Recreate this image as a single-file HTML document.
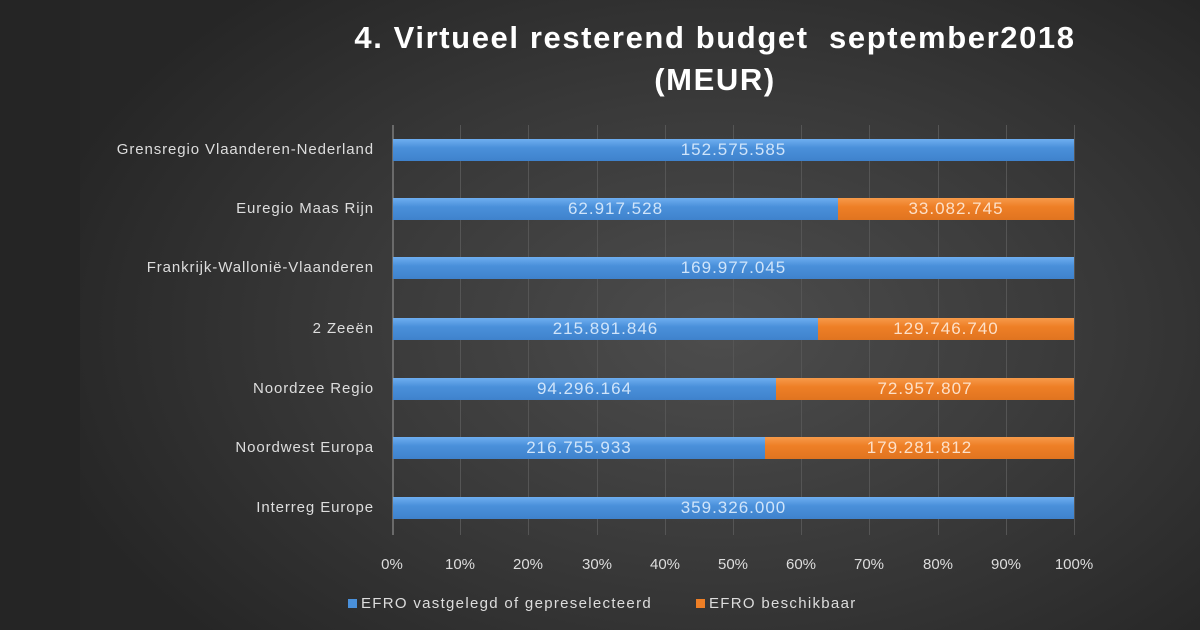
<!DOCTYPE html>
<html><head><meta charset="utf-8"><style>
body{margin:0}
#c{position:relative;width:1200px;height:630px;overflow:hidden;font-family:"Liberation Sans",sans-serif;
background:radial-gradient(ellipse 700px 450px at 720px 330px,#4d4d4d 0%,#3a3a3a 50%,#262626 100%);}
#strip{position:absolute;left:0;top:0;width:80px;height:630px;background:#252525}
.t{position:absolute;left:300px;width:830px;text-align:center;color:#fff;font-weight:bold;font-size:31px;letter-spacing:1.6px}
.lab{position:absolute;right:826px;color:#ddd;font-size:15px;letter-spacing:0.9px;text-align:right;white-space:nowrap}
.grid{position:absolute;top:125px;height:410px;width:1px;background:#555}
.bar{position:absolute;height:22px;color:#cfe4fa;font-size:17px;letter-spacing:1px;text-align:center;line-height:22px;overflow:hidden}
.b{background:linear-gradient(#6eaef0,#4a90da 40%,#3f82cc)}
.o{background:linear-gradient(#f79a4a,#ee7f26 40%,#e07420);color:#fde0c8}
.tick{position:absolute;top:556px;color:#ddd;font-size:15px;width:60px;margin-left:-30px;text-align:center}
.leg{position:absolute;top:595px;color:#ddd;font-size:15px;letter-spacing:1.3px}
.sw{display:inline-block;width:9px;height:9px;margin-right:4px}
</style></head><body><div id="c">
<div id="strip"></div>
<div class="t" style="top:20px">4. Virtueel resterend budget&nbsp; september2018</div>
<div class="t" style="top:62px">(MEUR)</div>
<div class="grid" style="left:392px;width:2px;background:#6a6a6a"></div>
<div class="grid" style="left:460px"></div><div class="grid" style="left:528px"></div><div class="grid" style="left:597px"></div><div class="grid" style="left:665px"></div><div class="grid" style="left:733px"></div><div class="grid" style="left:801px"></div><div class="grid" style="left:869px"></div><div class="grid" style="left:938px"></div><div class="grid" style="left:1006px"></div><div class="grid" style="left:1074px"></div>

<div class="lab" style="top:141px">Grensregio Vlaanderen-Nederland</div>
<div class="lab" style="top:200px">Euregio Maas Rijn</div>
<div class="lab" style="top:259px">Frankrijk-Wallonië-Vlaanderen</div>
<div class="lab" style="top:320px">2 Zeeën</div>
<div class="lab" style="top:380px">Noordzee Regio</div>
<div class="lab" style="top:439px">Noordwest Europa</div>
<div class="lab" style="top:499px">Interreg Europe</div>

<div class="bar b" style="top:139px;left:393px;width:681px">152.575.585</div>
<div class="bar b" style="top:198px;left:393px;width:445px">62.917.528</div>
<div class="bar o" style="top:198px;left:838px;width:236px">33.082.745</div>
<div class="bar b" style="top:257px;left:393px;width:681px">169.977.045</div>
<div class="bar b" style="top:318px;left:393px;width:425px">215.891.846</div>
<div class="bar o" style="top:318px;left:818px;width:256px">129.746.740</div>
<div class="bar b" style="top:378px;left:393px;width:383px">94.296.164</div>
<div class="bar o" style="top:378px;left:776px;width:298px">72.957.807</div>
<div class="bar b" style="top:437px;left:393px;width:372px">216.755.933</div>
<div class="bar o" style="top:437px;left:765px;width:309px">179.281.812</div>
<div class="bar b" style="top:497px;left:393px;width:681px">359.326.000</div>

<div class="tick" style="left:392px">0%</div><div class="tick" style="left:460px">10%</div><div class="tick" style="left:528px">20%</div><div class="tick" style="left:597px">30%</div><div class="tick" style="left:665px">40%</div><div class="tick" style="left:733px">50%</div><div class="tick" style="left:801px">60%</div><div class="tick" style="left:869px">70%</div><div class="tick" style="left:938px">80%</div><div class="tick" style="left:1006px">90%</div><div class="tick" style="left:1074px">100%</div>

<div class="leg" style="left:348px"><span class="sw" style="background:#4a90da"></span>EFRO vastgelegd of gepreselecteerd</div>
<div class="leg" style="left:696px"><span class="sw" style="background:#ee7f26"></span>EFRO beschikbaar</div>
</div></body></html>
